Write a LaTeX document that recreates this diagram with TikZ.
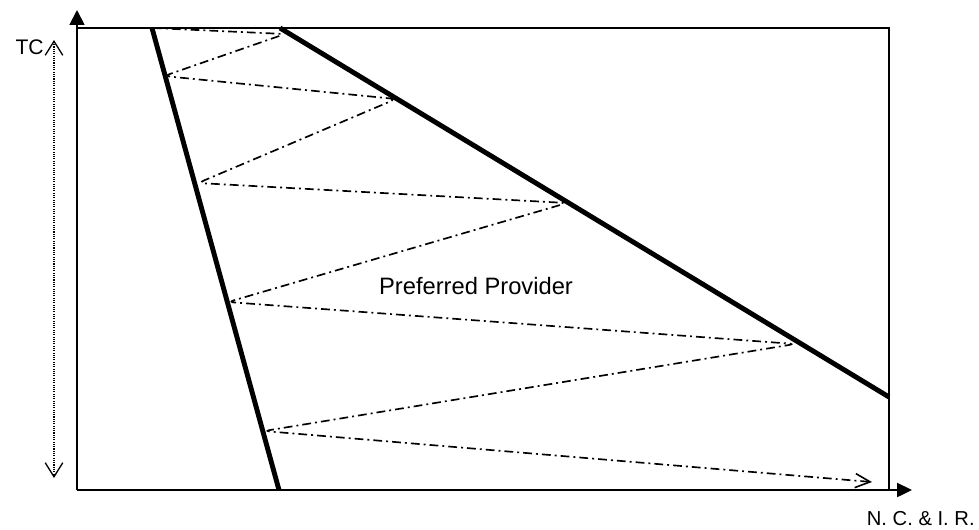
\documentclass[tikz,border=0pt]{standalone}
\usepackage{fontspec}
\setmainfont{Liberation Sans}
\usetikzlibrary{arrows.meta}

\begin{document}
\begin{tikzpicture}[x=0.02cm,y=-0.02cm,
  axis/.style={line width=1.1pt},
  bound/.style={line width=2.8pt},
  dashdot/.style={line width=0.95pt,dash pattern=on 5pt off 2.3pt on 1.1pt off 2.3pt,rounded corners=3.5pt},
  lbl/.style={inner sep=0pt,font=\fontsize{12}{14}\selectfont}]
\useasboundingbox (0,0) rectangle (979,529);

\coordinate (origin) at (77,490);
\coordinate (ytop) at (77,10);
\coordinate (xend) at (912,490);
\coordinate (corner) at (889,28);

\draw[axis,-{Triangle[length=8.5pt,width=8.5pt]}] (origin) -- (ytop);
\draw[axis,-{Triangle[length=8.5pt,width=8pt]}] (origin) -- (xend);
\draw[line width=0.75pt] (origin |- corner) -- (corner) -- (corner |- origin);

\draw[bound] (152,28) -- (279,490);
\draw[bound] (280,28) -- (889,397);

\draw[line width=0.75pt,dash pattern=on 0.6pt off 0.7pt,
  {Straight Barb[length=8pt,width=10pt,line width=0.75pt]}-{Straight Barb[length=8pt,width=10pt,line width=0.75pt]}]
  (54,40) -- (54,478);

\draw[dashdot,-{Straight Barb[length=8.5pt,width=8pt,line width=0.9pt]}]
  (153,28) -- (285,34) -- (164,76) -- (396,99) -- (198,183) -- (567,203)
  -- (228,302) -- (795,344) -- (264,431) -- (872,482);

\node[lbl,anchor=base east] (tc) at (44,54) {TC};
\node[lbl,anchor=base,font=\fontsize{13.5}{16}\selectfont] (pp) at (476,294) {Preferred Provider};
\node[lbl,anchor=base east,font=\fontsize{11.5}{14}\selectfont] (nc) at (975,525) {N. C. \& I. R.};
\end{tikzpicture}
\end{document}
